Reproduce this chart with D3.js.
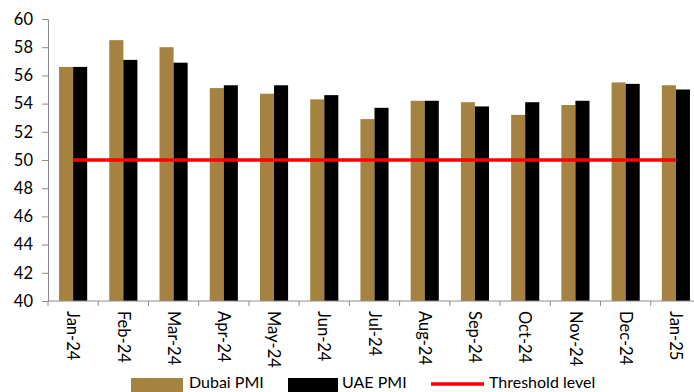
<!DOCTYPE html>
<html><head><meta charset="utf-8">
<script src="https://cdn.jsdelivr.net/npm/d3@7"></script>
<style>body{margin:0;background:#fff;overflow:hidden}svg{display:block}</style>
</head><body>
<svg id="c" width="694" height="392"></svg>
<script>
const categories = ["Jan-24","Feb-24","Mar-24","Apr-24","May-24","Jun-24","Jul-24","Aug-24","Sep-24","Oct-24","Nov-24","Dec-24","Jan-25"];
const dubaiPMI = [56.6,58.5,58.0,55.1,54.7,54.3,52.9,54.2,54.1,53.2,53.9,55.5,55.3];
const uaePMI   = [56.6,57.1,56.9,55.3,55.3,54.6,53.7,54.2,53.8,54.1,54.2,55.4,55.0];
const threshold = [50,50,50,50,50,50,50,50,50,50,50,50,50];
const yTicks = [40,42,44,46,48,50,52,54,56,58,60];
const seriesNames = ["Dubai PMI","UAE PMI","Threshold level"];
const colors = {dubai:"#a5823f", uae:"#000000", thr:"#ff0000", axis:"#8c8c8c"};
const font = "Lato, 'Open Sans', sans-serif";

const svg = d3.select("#c");
const m = {left:48, top:19, bottom:301, right:701};
const x = d3.scaleBand().domain(categories).range([m.left, m.right]).paddingInner(0).paddingOuter(0);
const y = d3.scaleLinear().domain([40,60]).range([m.bottom, m.top]);
const barW = x.bandwidth()*0.28;

// bars
const g = svg.append("g");
g.selectAll("rect.d").data(categories).join("rect")
  .attr("x", d => x(d)+x.bandwidth()/2-barW)
  .attr("y", (d,i) => y(dubaiPMI[i]))
  .attr("width", barW)
  .attr("height", (d,i) => y(40)-y(dubaiPMI[i]))
  .attr("fill", colors.dubai);
g.selectAll("rect.u").data(categories).join("rect")
  .attr("x", d => x(d)+x.bandwidth()/2)
  .attr("y", (d,i) => y(uaePMI[i]))
  .attr("width", barW)
  .attr("height", (d,i) => y(40)-y(uaePMI[i]))
  .attr("fill", colors.uae);

// y axis
const yAxis = svg.append("g").attr("transform",`translate(${m.left},0)`)
  .call(d3.axisLeft(y).tickValues(yTicks).tickSize(6).tickPadding(9).tickFormat(d3.format("d")));
yAxis.select(".domain").attr("stroke", colors.axis).attr("stroke-width",1);
yAxis.selectAll(".tick line").attr("stroke", colors.axis);
yAxis.selectAll("text").attr("font-family", font).attr("font-size","16.5px").attr("fill","#000");

// x axis with ticks at band boundaries
const xg = svg.append("g").attr("transform",`translate(0,${m.bottom})`);
xg.append("line").attr("x1",m.left).attr("x2",m.right).attr("stroke",colors.axis);
const bounds = categories.map(c => x(c)).concat([x(categories[categories.length-1])+x.bandwidth()]);
xg.selectAll("line.t").data(bounds).join("line").attr("class","t")
  .attr("x1",d=>d).attr("x2",d=>d).attr("y1",0).attr("y2",5).attr("stroke",colors.axis);
xg.selectAll("text").data(categories).join("text")
  .attr("transform", d => `translate(${x(d)+x.bandwidth()/2},10) rotate(90)`)
  .attr("dy","0.35em")
  .attr("text-anchor","start")
  .attr("font-family", font).attr("font-size","16.5px").attr("fill","#000")
  .text(d=>d);

// threshold line
const line = d3.line().x((d,i)=>x(categories[i])+x.bandwidth()/2).y(d=>y(d));
svg.append("path").datum(threshold).attr("d",line)
  .attr("fill","none").attr("stroke",colors.thr).attr("stroke-width",3.5);

// legend
const lg = svg.append("g").attr("font-family",font).attr("font-size","16px");
lg.append("rect").attr("x",131).attr("y",378).attr("width",52).attr("height",14).attr("fill",colors.dubai);
lg.append("text").attr("x",189).attr("y",388).text(seriesNames[0]);
lg.append("rect").attr("x",288).attr("y",378).attr("width",50).attr("height",14).attr("fill",colors.uae);
lg.append("text").attr("x",342).attr("y",388).text(seriesNames[1]);
lg.append("line").attr("x1",431).attr("x2",484).attr("y1",384).attr("y2",384).attr("stroke",colors.thr).attr("stroke-width",3.5);
lg.append("text").attr("x",489).attr("y",388).text(seriesNames[2]);
</script>
</body></html>
